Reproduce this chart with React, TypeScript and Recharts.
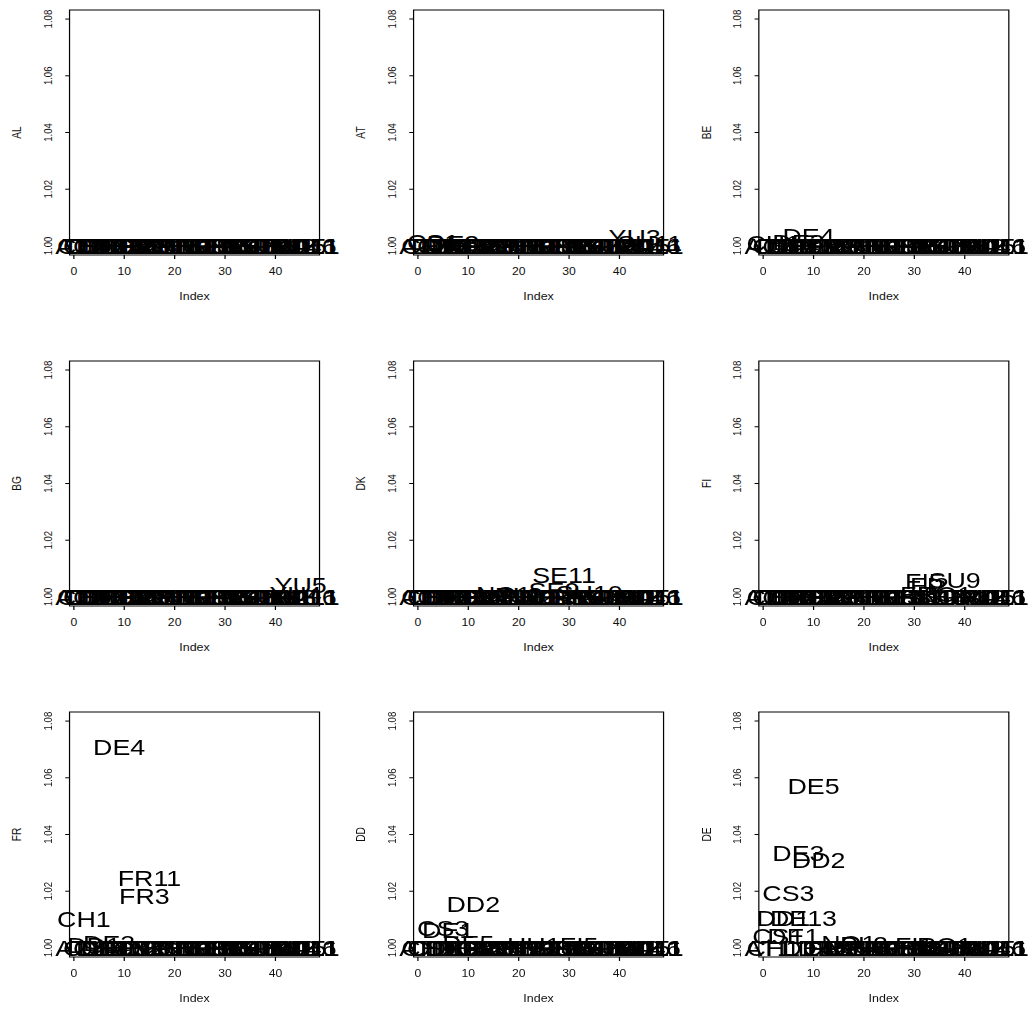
import React from 'react';
import { ScatterChart, Scatter, XAxis, YAxis, ReferenceArea } from 'recharts';

// region labels, plotted at Index 1..48
const REGIONS = [
  'AT1', 'CH1', 'CS1', 'DD1', 'CS3', 'DE1', 'DE3', 'DE13', 'DE4', 'DE5', 'DD2', 'DE2',
  'CS2', 'FR3', 'FR11', 'NL1', 'NO1', 'DK1', 'BE1', 'PL2', 'PL1', 'SE2', 'HU1', 'IT1',
  'SE3', 'NO3', 'SE9', 'GB1', 'SE11', 'FI1', 'FI3', 'FI5', 'FI2', 'SU10', 'SU3', 'RO1',
  'SU7', 'SU9', 'BG1', 'GR1', 'TR1', 'YU1', 'YU3', 'YU4', 'YU5', 'SU11', 'YU6', 'AL1',
];

const AL_VALUES = [
  1, 1, 1, 1, 1, 1, 1, 1, 1, 1, 1, 1,
  1, 1, 1, 1, 1, 1, 1, 1, 1, 1, 1, 1,
  1, 1, 1, 1, 1, 1, 1, 1, 1, 1, 1, 1,
  1, 1, 1, 1, 1, 1, 1, 1, 1, 1, 1, 1,
];
const AT_VALUES = [
  1, 1, 1.0012, 1, 1, 1, 1.001, 1, 1, 1, 1, 1,
  1, 1, 1, 1, 1, 1, 1, 1, 1, 1, 1, 1,
  1, 1, 1, 1, 1, 1, 1, 1, 1, 1, 1, 1,
  1, 1, 1, 1, 1, 1, 1.003, 1, 1, 1.001, 1, 1,
];
const BE_VALUES = [
  1, 1.0008, 1, 1, 1, 1, 1.0012, 1, 1.0035, 1, 1, 1,
  1, 1, 1, 1, 1, 1, 1, 1, 1, 1, 1, 1,
  1, 1, 1, 1, 1, 1, 1, 1, 1, 1, 1, 1,
  1, 1, 1, 1, 1, 1, 1, 1, 1, 1, 1, 1,
];
const BG_VALUES = [
  1, 1, 1, 1, 1, 1, 1, 1, 1, 1, 1, 1,
  1, 1, 1, 1, 1, 1, 1, 1, 1, 1, 1, 1,
  1, 1, 1, 1, 1, 1, 1, 1, 1, 1, 1, 1,
  1, 1, 1, 1, 1, 1, 1, 1.001, 1.004, 1, 1, 1,
];
const DK_VALUES = [
  1, 1, 1, 1, 1, 1, 1, 1, 1, 1, 1, 1,
  1, 1, 1, 1, 1.001, 1, 1, 1.0005, 1, 1, 1, 1,
  1, 1, 1.0025, 1, 1.0075, 1, 1, 1, 1, 1.0012, 1, 1,
  1, 1, 1, 1, 1, 1, 1, 1, 1, 1, 1, 1,
];
const FI_VALUES = [
  1, 1, 1, 1, 1, 1, 1, 1, 1, 1, 1, 1,
  1, 1, 1, 1, 1, 1, 1, 1, 1, 1, 1, 1,
  1, 1, 1, 1, 1, 1, 1.001, 1.0055, 1.004, 1, 1, 1.001,
  1, 1.006, 1, 1, 1, 1, 1, 1, 1, 1, 1, 1,
];
const FR_VALUES = [
  1, 1.01, 1, 1.001, 1, 1, 1.0015, 1, 1.0707, 1, 1, 1,
  1, 1.0183, 1.0247, 1, 1, 1, 1, 1, 1, 1, 1, 1,
  1, 1, 1, 1, 1, 1, 1, 1, 1, 1, 1, 1,
  1, 1, 1, 1, 1, 1, 1, 1, 1, 1, 1, 1,
];
const DD_VALUES = [
  1, 1, 1, 1, 1.0068, 1.0062, 1, 1, 1, 1.0017, 1.0153, 1,
  1, 1, 1, 1, 1, 1, 1, 1, 1, 1, 1.001, 1,
  1, 1, 1, 1, 1, 1, 1, 1.0008, 1, 1, 1, 1,
  1, 1, 1, 1, 1, 1, 1, 1, 1, 1, 1, 1,
];
const DE_VALUES = [
  1, 1, 1.0042, 1.0103, 1.0193, 1.004, 1.0333, 1.0103, 1, 1.0571, 1.0309, 1,
  1, 1, 1, 1, 1.0015, 1, 1, 1.0012, 1, 1, 1, 1,
  1, 1, 1, 1, 1, 1.001, 1, 1, 1, 1, 1, 1.001,
  1, 1, 1, 1, 1, 1, 1, 1, 1, 1, 1, 1,
];

const PANEL_NAMES = ['AL', 'AT', 'BE', 'BG', 'DK', 'FI', 'FR', 'DD', 'DE'];
const PANEL_VALUES = [AL_VALUES, AT_VALUES, BE_VALUES, BG_VALUES, DK_VALUES, FI_VALUES, FR_VALUES, DD_VALUES, DE_VALUES];

const X_TICKS = [0, 10, 20, 30, 40];
const Y_TICKS = [1.0, 1.02, 1.04, 1.06, 1.08];
const X_DOMAIN: [number, number] = [-0.86, 48.75];
const Y_DOMAIN: [number, number] = [0.9968, 1.0832];

// the reference is stretched horizontally, so everything is drawn narrower and scaled
const STRETCH = 1.22;
const COL_LEFT = [69.3, 413.8, 758.3];
const ROW_TOP = [10, 360.8, 711.7];
const BOX_W = 250 / STRETCH;
const BOX_H = 245;
const Y_AXIS_W = 57;
const PAD_RIGHT = 25;
const PAD_TOP = 10;
const X_AXIS_H = 55;
const CHART_W = Y_AXIS_W + BOX_W + PAD_RIGHT;
const CHART_H = PAD_TOP + BOX_H + X_AXIS_H;

const FONT = '"Liberation Sans", Arial, sans-serif';

const XTick = (props: any) => {
  const { x, y, payload } = props;
  return (
    <text x={x} y={y + 12.5} dy="0.35em" textAnchor="middle" fontSize={10} fontFamily={FONT} fill="#111">
      {payload.value}
    </text>
  );
};

const YTick = (props: any) => {
  const { x, y, payload } = props;
  const cx = x - 14.4;
  return (
    <text
      x={cx}
      y={y}
      dy="0.35em"
      textAnchor="middle"
      fontSize={9.6}
      fontFamily={FONT}
      fill="#111"
      transform={`rotate(-90, ${cx}, ${y})`}
    >
      {Number(payload.value).toFixed(2)}
    </text>
  );
};

const RegionLabel = (props: any) => {
  const { cx, cy, payload } = props;
  return (
    <text x={cx} y={cy} dy="0.35em" textAnchor="middle" fontSize={22} fontFamily={FONT} fill="#000">
      {payload.label}
    </text>
  );
};

const Panel = ({ name, values }: { name: string; values: number[] }) => {
  const data = values.map((v, i) => ({ x: i + 1, y: v, label: REGIONS[i] }));
  const titleX = Y_AXIS_W - 43.1;
  const titleY = PAD_TOP + BOX_H / 2;
  return (
    <ScatterChart width={CHART_W} height={CHART_H} margin={{ top: PAD_TOP, right: PAD_RIGHT, bottom: 0, left: 0 }}>
      <XAxis
        type="number"
        dataKey="x"
        domain={X_DOMAIN}
        ticks={X_TICKS}
        tick={<XTick />}
        tickSize={4}
        tickMargin={0}
        tickLine={{ stroke: '#000' }}
        axisLine={false}
        height={X_AXIS_H}
        label={() => (
          <text x={Y_AXIS_W + BOX_W / 2} y={PAD_TOP + BOX_H + 41} dy="0.35em" textAnchor="middle" fontSize={10.2} fontFamily={FONT} fill="#111">
            Index
          </text>
        )}
      />
      <YAxis
        type="number"
        dataKey="y"
        domain={Y_DOMAIN}
        ticks={Y_TICKS}
        tick={<YTick />}
        tickSize={3.5}
        tickMargin={0}
        tickLine={{ stroke: '#000' }}
        axisLine={false}
        width={Y_AXIS_W}
        label={() => (
          <text
            x={titleX}
            y={titleY}
            dy="0.35em"
            textAnchor="middle"
            fontSize={10.2}
            fontFamily={FONT}
            fill="#111"
            transform={`rotate(-90, ${titleX}, ${titleY})`}
          >
            {name}
          </text>
        )}
      />
      <ReferenceArea
        x1={X_DOMAIN[0]}
        x2={X_DOMAIN[1]}
        y1={Y_DOMAIN[0]}
        y2={Y_DOMAIN[1]}
        fill="none"
        stroke="#000"
        strokeWidth={1}
        ifOverflow="visible"
      />
      <Scatter data={data} shape={<RegionLabel />} isAnimationActive={false} />
    </ScatterChart>
  );
};

export default function App() {
  return (
    <div
      style={{
        position: 'absolute',
        left: 0,
        top: 0,
        width: 1030 / STRETCH,
        height: 1009,
        background: '#fff',
        transform: `scaleX(${STRETCH})`,
        transformOrigin: '0 0',
      }}
    >
      {PANEL_NAMES.map((name, i) => {
        const row = Math.floor(i / 3);
        const col = i % 3;
        return (
          <div
            key={name}
            style={{ position: 'absolute', left: COL_LEFT[col] / STRETCH - Y_AXIS_W, top: ROW_TOP[row] - PAD_TOP }}
          >
            <Panel name={name} values={PANEL_VALUES[i]} />
          </div>
        );
      })}
    </div>
  );
}
